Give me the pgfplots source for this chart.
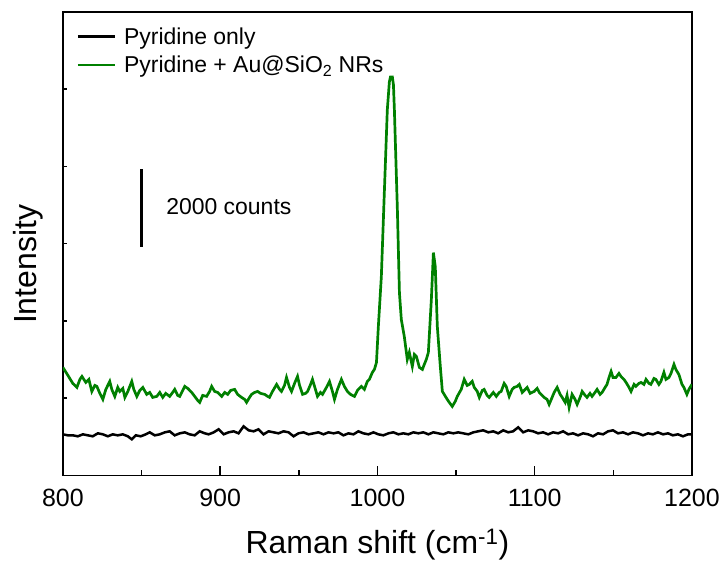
\documentclass[border=0pt]{standalone}
\usepackage{pgfplots}
\pgfplotsset{compat=1.18}
\usepackage{fontspec}
\setmainfont{Liberation Sans}
\definecolor{sersgreen}{RGB}{0,128,0}
\begin{document}
\begin{tikzpicture}
\begin{axis}[
  scale only axis,
  width=630pt, height=464pt,
  xmin=800, xmax=1200, ymin=0, ymax=12000,
  xtick={800,900,1000,1100,1200},
  minor x tick num=1,
  ytick=\empty,
  extra y ticks={2000,4000,6000,8000,10000},
  extra y tick labels={},
  extra y tick style={major tick length=4pt},
  xtick pos=bottom, ytick pos=left,
  scaled y ticks=false,
  tick align=inside,
  major tick length=9pt,
  minor tick length=5pt,
  axis line style={line width=1.3pt},
  tick style={line width=1.5pt, black},
  /pgf/number format/assume math mode=true,
  /pgf/number format/1000 sep={},
  tick label style={font=\fontsize{25}{29}\selectfont},
  xticklabel style={yshift=-10pt},
  xlabel={Raman shift (cm\textsuperscript{-1})},
  ylabel={Intensity},
  label style={font=\fontsize{32}{36}\selectfont},
  xlabel style={yshift=-16pt},
  ylabel style={at={(axis description cs:-0.0556,0.455)}, anchor=center},
  legend style={draw=none, fill=none, at={(0.018,0.975)}, anchor=north west,
    font=\fontsize{23}{27}\selectfont, row sep=6pt, inner sep=2pt},
  legend cell align=left,
  legend image code/.code={\draw[#1, line width=2.8pt] (0pt,0pt) -- (37pt,0pt); \path (43pt,0pt);},
]
\addplot[black, line width=2.5pt] coordinates {
(800.0,1060)(803.2,1034)(806.3,1034)(809.5,1009)(812.7,1060)(815.9,1034)(819.0,1009)(822.2,1086)
(825.4,1060)(828.6,1009)(831.7,1060)(834.9,1034)(838.1,1060)(841.3,1009)(843.8,931)(846.4,1034)
(849.5,1009)(852.7,1060)(855.2,1112)(858.4,1034)(861.6,1060)(864.8,1112)(867.9,1138)(871.1,1034)
(874.3,1086)(877.5,1112)(880.6,1060)(883.8,1034)(887.0,1138)(890.2,1086)(892.7,1060)(895.9,1112)
(899.0,1190)(902.2,1060)(905.4,1112)(908.6,1138)(911.7,1086)(914.9,1267)(918.1,1164)(921.3,1138)
(924.4,1190)(927.6,1060)(930.8,1138)(934.0,1112)(937.1,1086)(940.3,1138)(943.5,1112)(946.7,1009)
(949.8,1086)(953.0,1112)(956.2,1060)(959.4,1086)(962.5,1112)(965.7,1060)(968.9,1112)(972.1,1086)
(975.2,1112)(978.4,1034)(981.6,1086)(984.8,1060)(987.9,1138)(991.1,1086)(994.3,1060)(997.5,1112)
(1000.6,1060)(1003.8,1034)(1007.0,1086)(1010.2,1112)(1013.3,1060)(1016.5,1086)(1019.7,1060)(1022.9,1112)
(1026.0,1086)(1029.2,1112)(1032.4,1060)(1035.6,1112)(1038.7,1086)(1041.9,1060)(1045.1,1112)(1048.3,1086)
(1051.4,1112)(1054.6,1086)(1057.8,1060)(1061.0,1112)(1064.1,1138)(1067.3,1164)(1070.5,1112)(1073.7,1138)
(1076.8,1086)(1080.0,1164)(1083.2,1112)(1086.3,1138)(1089.5,1241)(1092.7,1112)(1095.9,1164)(1099.0,1138)
(1102.2,1086)(1105.4,1112)(1108.6,1060)(1111.7,1112)(1114.9,1086)(1118.1,1138)(1121.3,1060)(1124.4,1086)
(1127.6,1034)(1130.8,1086)(1134.0,1060)(1137.1,1009)(1140.3,1086)(1143.5,1060)(1146.7,1138)(1149.8,1164)
(1153.0,1086)(1156.2,1112)(1159.4,1060)(1162.5,1112)(1165.7,1086)(1168.9,1034)(1172.1,1086)(1175.2,1060)
(1178.4,1112)(1181.6,1060)(1184.8,1086)(1187.9,1034)(1191.1,1060)(1194.3,1009)(1197.5,1060)(1200.0,1060)
};
\addlegendentry{Pyridine only}
\addplot[sersgreen, line width=2.7pt] coordinates {
(800.0,2793)(803.2,2586)(806.3,2379)(808.9,2276)(810.8,2483)(812.1,2560)(814.6,2405)(816.5,2483)
(818.4,2172)(820.3,2327)(821.6,2302)(823.5,2121)(825.4,1965)(827.3,2224)(829.8,2431)(831.1,2224)
(833.0,2043)(834.9,2276)(836.2,2172)(838.1,2250)(839.4,2017)(841.3,2172)(843.8,2431)(845.1,2224)
(847.0,2043)(848.9,2198)(850.8,2276)(853.3,2095)(855.2,2146)(857.1,2017)(859.7,2043)(861.6,2146)
(863.5,2017)(865.4,2121)(867.9,2043)(869.8,2146)(871.1,2224)(873.0,2069)(874.3,2043)(876.2,2198)
(877.5,2302)(879.4,2250)(881.9,2146)(883.8,2043)(885.7,1940)(887.0,1888)(888.9,2069)(891.4,2043)
(893.3,2172)(894.6,2302)(896.5,2172)(898.4,2146)(901.0,2043)(902.9,2146)(904.8,2095)(906.7,2198)
(909.2,2224)(911.1,2095)(913.6,2017)(915.6,1965)(916.8,1888)(918.7,2017)(920.0,2095)(921.9,2146)
(923.8,2172)(925.7,2121)(928.3,2095)(930.2,2043)(931.4,2017)(933.3,2172)(935.9,2353)(937.8,2224)
(939.0,2172)(940.9,2327)(942.2,2534)(944.1,2276)(945.4,2172)(947.3,2379)(949.2,2560)(950.5,2327)
(952.4,2095)(954.3,2121)(955.6,2172)(957.5,2353)(958.7,2483)(960.6,2224)(961.9,2043)(963.8,2146)
(965.1,2095)(967.6,2276)(969.5,2431)(971.4,2172)(972.7,1965)(974.6,2224)(977.1,2483)(979.0,2302)
(980.9,2172)(982.9,2095)(985.4,2043)(987.3,2198)(989.8,2302)(991.7,2224)(993.6,2431)(994.9,2483)
(996.8,2664)(998.1,2741)(999.4,2922)(1000.6,3853)(1002.5,5146)(1004.4,7318)(1006.3,9465)(1007.6,10189)
(1008.3,10318)(1009.5,10318)(1010.2,10111)(1010.8,9465)(1012.7,6879)(1014.0,4732)(1015.2,4034)(1017.1,3595)
(1019.0,3000)(1020.3,3181)(1022.2,2819)(1023.5,3129)(1024.8,3077)(1026.7,2793)(1028.6,2741)(1029.8,2870)
(1031.1,3000)(1032.4,3181)(1034.3,4551)(1035.6,5767)(1036.8,5405)(1038.1,3853)(1040.0,2819)(1041.3,2172)
(1044.4,1965)(1045.7,1888)(1047.6,1784)(1049.5,1914)(1050.8,2043)(1053.3,2224)(1055.2,2483)(1057.1,2327)
(1058.4,2353)(1060.3,2431)(1061.6,2276)(1063.5,2172)(1064.8,2017)(1066.7,2198)(1067.9,2224)(1069.8,2069)
(1071.1,2017)(1073.7,2146)(1075.6,2043)(1077.5,2146)(1078.7,2172)(1080.6,2379)(1081.9,2302)(1083.8,2043)
(1085.7,2224)(1087.0,2276)(1088.9,2302)(1090.2,2353)(1092.1,2146)(1094.0,2224)(1095.2,2276)(1097.1,2121)
(1099.7,2172)(1101.6,2250)(1102.9,2146)(1104.8,2069)(1106.0,2017)(1107.9,1965)(1109.2,1836)(1111.1,2017)
(1112.4,2146)(1114.3,2276)(1116.2,2095)(1117.5,2017)(1119.4,1888)(1120.6,2069)(1121.9,1758)(1123.8,2095)
(1125.7,1965)(1127.0,1836)(1128.9,2017)(1130.2,2172)(1132.1,2069)(1133.3,2017)(1135.2,2121)(1136.5,2043)
(1138.4,2146)(1139.7,2224)(1141.6,2095)(1142.9,2146)(1144.8,2276)(1146.0,2353)(1147.3,2534)(1148.6,2689)
(1149.8,2534)(1151.7,2534)(1153.6,2638)(1154.9,2560)(1156.8,2483)(1158.1,2405)(1160.0,2276)(1161.3,2172)
(1163.2,2353)(1164.4,2302)(1166.3,2379)(1167.6,2405)(1169.5,2353)(1170.8,2483)(1172.7,2379)(1173.9,2353)
(1175.9,2508)(1177.1,2483)(1179.0,2353)(1180.3,2431)(1182.2,2664)(1183.5,2483)(1185.4,2534)(1186.7,2638)
(1188.6,2870)(1189.8,2741)(1191.7,2612)(1193.7,2353)(1194.9,2276)(1196.8,2095)(1198.1,2224)(1200.0,2353)
};
\addlegendentry{Pyridine + Au@SiO\textsubscript{2} NRs}
\addplot[black, line width=2.6pt, forget plot] coordinates {(850,5920) (850,7920)};
\node[anchor=west, font=\fontsize{23}{27}\selectfont] at (axis cs:863.5,6950) {2000 counts};
\end{axis}
\path (current axis.south west) ++(-63pt,-85pt) coordinate (bl);
\path (current axis.north east) ++(30pt,12pt) coordinate (tr);
\path[use as bounding box] (bl) rectangle (tr);
\end{tikzpicture}
\end{document}
